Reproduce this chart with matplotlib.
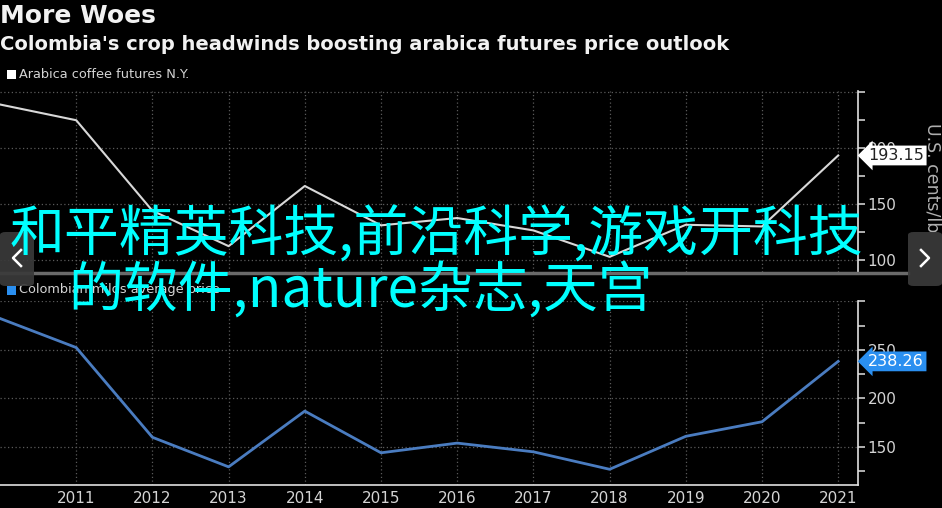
"""
Recreation of the "More Woes" Bloomberg-style coffee price chart (dark theme).
"""

import matplotlib
matplotlib.use("Agg")
import matplotlib.pyplot as plt
from matplotlib.lines import Line2D
from matplotlib.patches import FancyBboxPatch, Rectangle
import matplotlib.transforms as mtransforms

plt.rcParams["font.family"] = ["DejaVu Sans", "Noto Sans CJK SC"]

# ---- data ----
years = [2010, 2011, 2012, 2013, 2014, 2015, 2016, 2017, 2018, 2019, 2020, 2021]
arabica_ny = [238.5, 224.5, 144.0, 112.5, 166.0, 131.0, 137.5, 126.5, 103.0, 131.5, 130.0, 193.15]
colombian_milds = [282.5, 252.5, 160.0, 129.5, 187.0, 144.0, 154.0, 145.0, 127.0, 161.0, 176.0, 238.26]
year_ticks = list(range(2011, 2022))

title = "More Woes"
subtitle = "Colombia's crop headwinds boosting arabica futures price outlook"
legend_top = "Arabica coffee futures N.Y."
legend_bottom = "Colombian milds average price"
unit_label = "U.S. cents/lb"
overlay_1 = "和平精英科技,前沿科学,游戏开科技"
overlay_2 = "的软件,nature杂志,天宫"

W, H = 942, 508
BG = "#000000"
GRID = "#5a5a5a"
TXT = "#d4d4d4"
WHITE_LINE = "#d8d8d8"
BLUE_LINE = "#4a7cc0"
BLUE_TAG = "#2a8ff0"

fig = plt.figure(figsize=(W / 100, H / 100), dpi=100, facecolor=BG)


def px_axes(left, top, right, bottom):
    return fig.add_axes([left / W, 1 - bottom / H, (right - left) / W, (bottom - top) / H])


def style_axes(ax, ylim, major, minor, labeled):
    ax.set_facecolor(BG)
    ax.set_xlim(2010, 2021.26)
    ax.set_ylim(*ylim)
    for s in ("top", "left", "bottom"):
        ax.spines[s].set_visible(False)
    ax.spines["right"].set_color("#e0e0e0")
    ax.spines["right"].set_linewidth(1.2)
    ax.yaxis.tick_right()
    ax.set_yticks(major)
    ax.set_yticklabels([str(v) if v in labeled else "" for v in major])
    ax.set_yticks(minor, minor=True)
    ax.tick_params(axis="y", which="both", colors="#e0e0e0", labelcolor=TXT,
                   labelsize=11, length=5, width=1.1, pad=2)
    ax.set_xticks(year_ticks)
    ax.grid(True, axis="both", which="major", color=GRID, linestyle=(0, (1, 2)),
            linewidth=0.9)
    ax.set_axisbelow(True)


# top panel
ax1 = px_axes(0, 91, 858, 272)
style_axes(ax1, (89.5, 250.5), [100, 150, 200, 250], [125, 175, 225], [100, 150, 200])
ax1.tick_params(axis="x", which="both", length=0, labelbottom=False)
ax1.plot(years, arabica_ny, color=WHITE_LINE, linewidth=1.5, zorder=3)

# bottom panel
ax2 = px_axes(0, 301, 858, 485)
style_axes(ax2, (110.8, 300.5), [150, 200, 250, 300], [125, 175, 225, 275], [150, 200, 250])
ax2.spines["bottom"].set_visible(True)
ax2.spines["bottom"].set_color("#e0e0e0")
ax2.spines["bottom"].set_linewidth(1.2)
ax2.set_xticklabels([str(y) for y in year_ticks])
ax2.tick_params(axis="x", length=0, labelcolor=TXT, labelsize=11, pad=4)
ax2.plot(years, colombian_milds, color=BLUE_LINE, linewidth=2, zorder=3)

# last-value tags on the right axis
for ax, val, fc, tc in ((ax1, arabica_ny[-1], "#ffffff", "#222222"),
                        (ax2, colombian_milds[-1], BLUE_TAG, "#ffffff")):
    tr = mtransforms.blended_transform_factory(ax.transAxes, ax.transData)
    ax.text(1.012, val, f"{val:.2f}", transform=tr, ha="left", va="center",
            fontsize=11.5, color=tc, zorder=10, clip_on=False,
            bbox=dict(boxstyle="larrow,pad=0.15", fc=fc, ec="none"))

# unit label
fig.text(932 / W, 1 - 178 / H, unit_label, rotation=-90, ha="center", va="center",
         fontsize=12.5, color="#b0b0b0")

# titles and legends
fig.text(0.0, 1 - 16 / H, title, ha="left", va="center", fontsize=18,
         fontweight="bold", color="#f2f2f2")
fig.text(0.0, 1 - 44 / H, subtitle, ha="left", va="center", fontsize=14,
         fontweight="bold", color="#f2f2f2")
fig.add_artist(Rectangle((7 / W, 1 - 79 / H), 9 / W, 9 / H, transform=fig.transFigure,
                         fc="#ffffff", ec="none"))
fig.text(19 / W, 1 - 74 / H, legend_top, ha="left", va="center", fontsize=9.3,
         color=TXT)
fig.add_artist(Rectangle((7 / W, 1 - 295 / H), 9 / W, 9 / H, transform=fig.transFigure,
                         fc=BLUE_TAG, ec="none"))
fig.text(19 / W, 1 - 290 / H, legend_bottom, ha="left", va="center", fontsize=9.3,
         color=TXT)

# panel separator
fig.add_artist(Line2D([0, 908 / W], [1 - 272.5 / H] * 2, transform=fig.transFigure,
                      color="#6a6a6a", linewidth=2.5))

# carousel navigation boxes with drawn chevrons
for x0, sign in ((0, -1), (908, 1)):
    fig.add_artist(FancyBboxPatch((x0 / W, 1 - 286 / H), 34 / W, 54 / H,
                                  boxstyle="round,pad=0,rounding_size=0.006",
                                  transform=fig.transFigure, fc="#3a3a3a",
                                  ec="none", alpha=0.92, zorder=20))
    cx = x0 + 17
    xs = [cx - 4 * sign, cx + 4 * sign, cx - 4 * sign]
    ys = [250, 258, 266]
    fig.add_artist(Line2D([x / W for x in xs], [1 - y / H for y in ys],
                          transform=fig.transFigure, color="#ffffff",
                          linewidth=1.8, zorder=21))

# overlay caption
fig.text(10 / W, 1 - 236 / H, overlay_1, ha="left", va="center", fontsize=39.5,
         color="#00ffff", family=["Noto Sans CJK SC", "DejaVu Sans"], zorder=30)
fig.text(68 / W, 1 - 292 / H, overlay_2, ha="left", va="center", fontsize=39.5,
         color="#00ffff", family=["Noto Sans CJK SC", "DejaVu Sans"], zorder=30)

fig.savefig("out.png", dpi=100, facecolor=BG)
